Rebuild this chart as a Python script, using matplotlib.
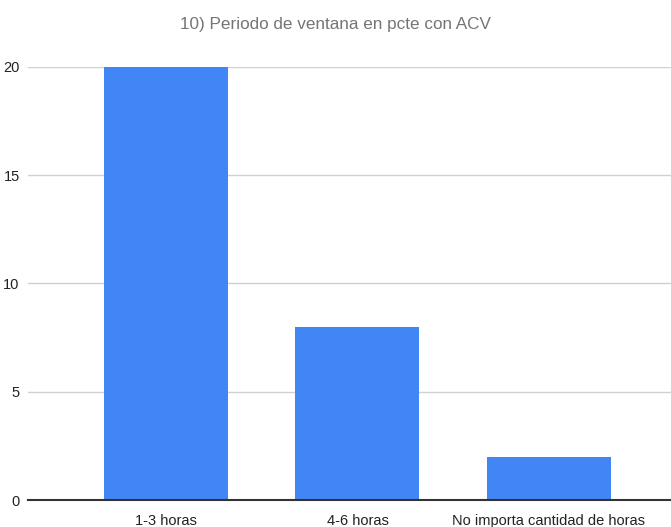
import matplotlib.pyplot as plt

plt.rcParams['font.family'] = ['Liberation Sans', 'DejaVu Sans']

# Data
categories = ["1-3 horas", "4-6 horas", "No importa cantidad de horas"]
values = [20, 8, 2]
y_ticks = [0, 5, 10, 15, 20]

fig = plt.figure(figsize=(6.71, 5.27), dpi=100)
ax = fig.add_axes([28 / 671, 1 - 500 / 527, 1 - 28 / 671, (500 - 67) / 527])

x = range(len(categories))
ax.bar(x, values, width=0.647, color="#4285F4", zorder=3)

ax.set_ylim(0, 20)
ax.set_xlim(-0.72, 2.637)
ax.set_yticks(y_ticks)
ax.set_xticks(list(x))
ax.set_xticklabels(categories)

ax.grid(axis="y", color="#d0d0d0", linewidth=1, zorder=0)
ax.set_axisbelow(True)
for s in ["top", "right", "left"]:
    ax.spines[s].set_visible(False)
ax.spines["bottom"].set_color("#333333")
ax.spines["bottom"].set_linewidth(1.5)
ax.spines["bottom"].set_zorder(4)

ax.tick_params(axis="both", length=0, labelsize=10.5, colors="#222222")
ax.tick_params(axis="x", pad=10)
ax.tick_params(axis="y", pad=6)
for lbl in ax.get_yticklabels():
    lbl.set_clip_on(False)

fig.text(0.5, 1 - 25 / 527, "10) Periodo de ventana en pcte con ACV",
         ha="center", va="center", fontsize=12.3, color="#757575")

fig.savefig("out.png", dpi=100)
